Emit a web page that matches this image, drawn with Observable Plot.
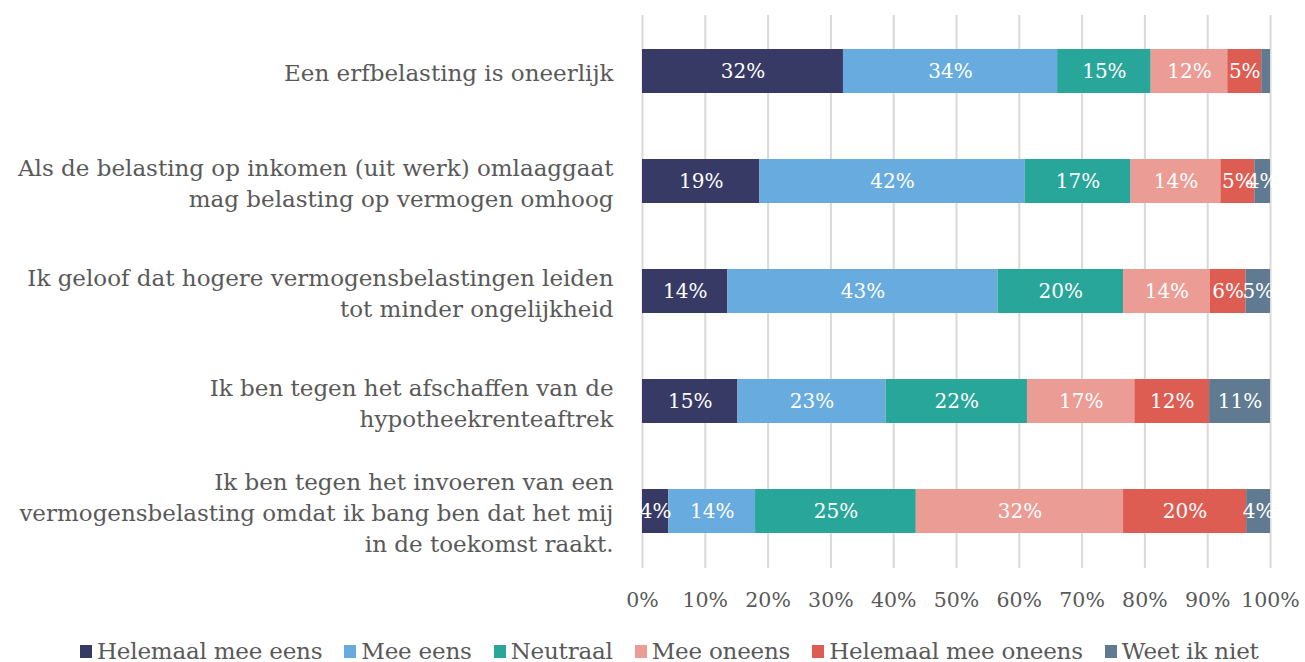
<!DOCTYPE html>
<html>
<head>
<meta charset="utf-8">
<script src="https://cdn.jsdelivr.net/npm/d3@7"></script>
<script src="https://cdn.jsdelivr.net/npm/@observablehq/plot@0.6"></script>
<style>
  html, body { margin: 0; padding: 0; background: #fff; }
  #chart { width: 1305px; }
  .legend { display: flex; align-items: center; height: 52px; padding-left: 80px;
    font-family: "DejaVu Serif", serif; font-size: 23px; color: #595959; letter-spacing: -0.2px; }
  .legend .item { display: flex; align-items: center; margin-right: 22px; white-space: nowrap; }
  .legend .sw { width: 12px; height: 13px; margin-right: 5px; }
</style>
</head>
<body>
<div id="chart"></div>
<script>
// Categories (statements)
const categories = [
  "Een erfbelasting is oneerlijk",
  "Als de belasting op inkomen (uit werk) omlaaggaat\nmag belasting op vermogen omhoog",
  "Ik geloof dat hogere vermogensbelastingen leiden\ntot minder ongelijkheid",
  "Ik ben tegen het afschaffen van de\nhypotheekrenteaftrek",
  "Ik ben tegen het invoeren van een\nvermogensbelasting omdat ik bang ben dat het mij\nin de toekomst raakt."
];
const seriesNames = ["Helemaal mee eens", "Mee eens", "Neutraal", "Mee oneens", "Helemaal mee oneens", "Weet ik niet"];
const seriesColors = ["#383a66", "#68abde", "#29a69a", "#ea9c95", "#de5d52", "#607b91"];

// Segment widths (share of 100%)
const helemaalMeeEens   = [32.0, 18.7, 13.6, 15.2, 4.2];
const meeEens           = [34.1, 42.2, 43.0, 23.6, 13.8];
const neutraal          = [14.9, 16.9, 20.0, 22.5, 25.6];
const meeOneens         = [12.2, 14.3, 13.8, 17.1, 33.0];
const helemaalMeeOneens = [5.4, 5.4, 5.7, 11.9, 19.6];
const weetIkNiet        = [1.4, 2.5, 3.9, 9.7, 3.8];

// Data labels as printed on the bars
const helemaalMeeEensLbl   = [32, 19, 14, 15, 4];
const meeEensLbl           = [34, 42, 43, 23, 14];
const neutraalLbl          = [15, 17, 20, 22, 25];
const meeOneensLbl         = [12, 14, 14, 17, 32];
const helemaalMeeOneensLbl = [5, 5, 6, 12, 20];
const weetIkNietLbl        = [null, 4, 5, 11, 4];

const xTicks = [0, 10, 20, 30, 40, 50, 60, 70, 80, 90, 100];

const seriesValues = [helemaalMeeEens, meeEens, neutraal, meeOneens, helemaalMeeOneens, weetIkNiet];
const seriesLabels = [helemaalMeeEensLbl, meeEensLbl, neutraalLbl, meeOneensLbl, helemaalMeeOneensLbl, weetIkNietLbl];

const data = [];
seriesNames.forEach((s, si) => {
  categories.forEach((c, ci) => {
    data.push({cat: c, series: s, value: seriesValues[si][ci], label: seriesLabels[si][ci]});
  });
});

const serif = "'DejaVu Serif', serif";

const chart = Plot.plot({
  width: 1305,
  height: 625,
  marginLeft: 642,
  marginRight: 35,
  marginTop: 15,
  marginBottom: 57,
  style: {fontFamily: serif, background: "#fff"},
  x: {domain: [0, 100], label: null},
  y: {domain: categories, paddingInner: 0.6, paddingOuter: 0.3, label: null},
  color: {domain: seriesNames, range: seriesColors},
  marks: [
    Plot.gridX(xTicks, {stroke: "#d9d9d9", strokeOpacity: 1, strokeWidth: 2}),
    Plot.barX(data, Plot.stackX({x: "value", y: "cat", fill: "series", order: seriesNames})),
    Plot.text(data.filter(d => d.label != null), Plot.stackX({
      x: "value", y: "cat", z: "series", order: seriesNames,
      text: d => d.label + "%", fill: "white", fontSize: 20, fontFamily: serif
    })),
    Plot.axisX(xTicks, {tickSize: 0, tickPadding: 24, tickFormat: d => d + "%", fontSize: 20.5, fill: "#595959", fontFamily: serif, label: null}),
    Plot.axisY({tickSize: 0, tickPadding: 29, fontSize: 23, lineHeight: 1.35, fill: "#595959", fontFamily: serif, label: null})
  ]
});
document.getElementById("chart").appendChild(chart);

const legend = document.createElement("div");
legend.className = "legend";
seriesNames.forEach((s, i) => {
  const it = document.createElement("div");
  it.className = "item";
  const sw = document.createElement("span");
  sw.className = "sw";
  sw.style.background = seriesColors[i];
  const tx = document.createElement("span");
  tx.textContent = s;
  it.appendChild(sw); it.appendChild(tx);
  legend.appendChild(it);
});
document.getElementById("chart").appendChild(legend);
</script>
</body>
</html>
